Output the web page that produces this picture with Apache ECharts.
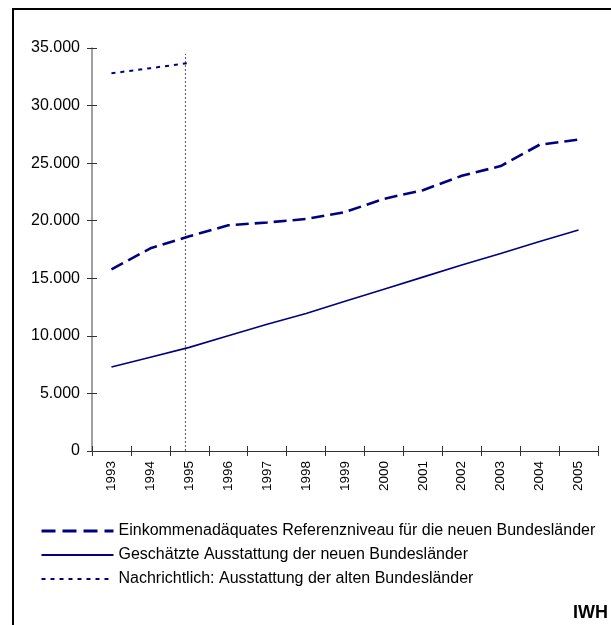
<!DOCTYPE html>
<html>
<head>
<meta charset="utf-8">
<script src="https://cdn.jsdelivr.net/npm/echarts@6/dist/echarts.min.js"></script>
<style>
html,body{margin:0;padding:0;background:#fff;}
#chart{width:611px;height:625px;}
</style>
</head>
<body>
<div id="chart"></div>
<script>
const years = ['1993','1994','1995','1996','1997','1998','1999','2000','2001','2002','2003','2004','2005'];
const referenzNiveau = [15770, 17600, 18650, 19600, 19850, 20150, 20750, 21900, 22650, 23900, 24750, 26600, 27050];
const ausstattungNeu = [7300, 8150, 9000, 10000, 11000, 11950, 13000, 14050, 15100, 16150, 17150, 18200, 19200];
const ausstattungAlt = [32800, 33250, 33700];
const markerYear = [[1994.9, 0], [1994.9, 34500]];
const yTicks = {min: 0, max: 35000, interval: 5000};

const names = [
  'Einkommenadäquates Referenzniveau für die neuen Bundesländer',
  'Geschätzte Ausstattung der neuen Bundesländer',
  'Nachrichtlich: Ausstattung der alten Bundesländer'
];
const navy = '#000080';
const fmt = v => String(v).replace(/\B(?=(\d{3})+(?!\d))/g, '.');
const font = 'Liberation Sans, Arial, sans-serif';

const chart = echarts.init(document.getElementById('chart'), null, {renderer: 'canvas'});
chart.setOption({
  animation: false,
  backgroundColor: '#fff',
  graphic: [{
    type: 'rect', silent: true,
    shape: {x: 13, y: 9, width: 700, height: 700},
    style: {fill: 'none', stroke: '#000', lineWidth: 2}
  }],
  title: {
    text: 'IWH', right: 3, bottom: 3, padding: 0,
    textStyle: {fontFamily: font, fontSize: 18, fontWeight: 'bold', color: '#000'}
  },
  grid: {left: 92, right: 13, top: 48, bottom: 174, containLabel: false},
  legend: {
    orient: 'vertical', left: 35, top: 517,
    itemWidth: 72, itemHeight: 14, itemGap: 6,
    selectedMode: false,
    itemStyle: {opacity: 0},
    textStyle: {fontFamily: font, fontSize: 16, lineHeight: 18, color: '#000'},
    data: [
      {name: names[0], lineStyle: {width: 3, type: [14, 7]}},
      {name: names[1]},
      {name: names[2], lineStyle: {width: 2, type: [4, 5]}}
    ]
  },
  xAxis: [{
    type: 'category', data: years, boundaryGap: true,
    axisLine: {lineStyle: {color: '#333', width: 1}},
    axisTick: {show: true, inside: false, length: 5, lineStyle: {color: '#333'}},
    axisLabel: {rotate: 90, margin: 10, color: '#000', fontFamily: font, fontSize: 13.5, interval: 0}
  }, {
    type: 'category', data: years, boundaryGap: true, position: 'bottom',
    axisLine: {show: false},
    axisTick: {show: true, inside: true, length: 5, lineStyle: {color: '#333'}},
    axisLabel: {show: false}
  }, {
    type: 'value', min: 1992.5, max: 2005.5, show: false
  }],
  yAxis: [{
    type: 'value', min: yTicks.min, max: yTicks.max, interval: yTicks.interval, position: 'left',
    axisLine: {show: true, lineStyle: {color: '#808080', width: 1.5}},
    axisTick: {show: true, inside: false, length: 5, lineStyle: {color: '#333'}},
    axisLabel: {margin: 12, color: '#000', fontFamily: font, fontSize: 16, formatter: fmt},
    splitLine: {show: false}
  }, {
    type: 'value', min: yTicks.min, max: yTicks.max, interval: yTicks.interval, position: 'left', offset: 0,
    axisLine: {show: false},
    axisTick: {show: true, inside: true, length: 5, lineStyle: {color: '#333'}},
    axisLabel: {show: false},
    splitLine: {show: false}
  }],
  series: [{
    name: names[0], type: 'line', data: referenzNiveau, symbol: 'none',
    lineStyle: {color: navy, width: 2.6, type: [13, 6]}, itemStyle: {color: navy}
  }, {
    name: names[1], type: 'line', data: ausstattungNeu, symbol: 'none',
    lineStyle: {color: navy, width: 1.6, type: 'solid'}, itemStyle: {color: navy}
  }, {
    name: names[2], type: 'line', data: ausstattungAlt, symbol: 'none',
    lineStyle: {color: navy, width: 2, type: [4, 5]}, itemStyle: {color: navy}
  }, {
    type: 'line', xAxisIndex: 2, data: markerYear, symbol: 'none', silent: true,
    lineStyle: {color: '#555', width: 1, type: [2, 2]}, z: 1
  }]
});
</script>
</body>
</html>
